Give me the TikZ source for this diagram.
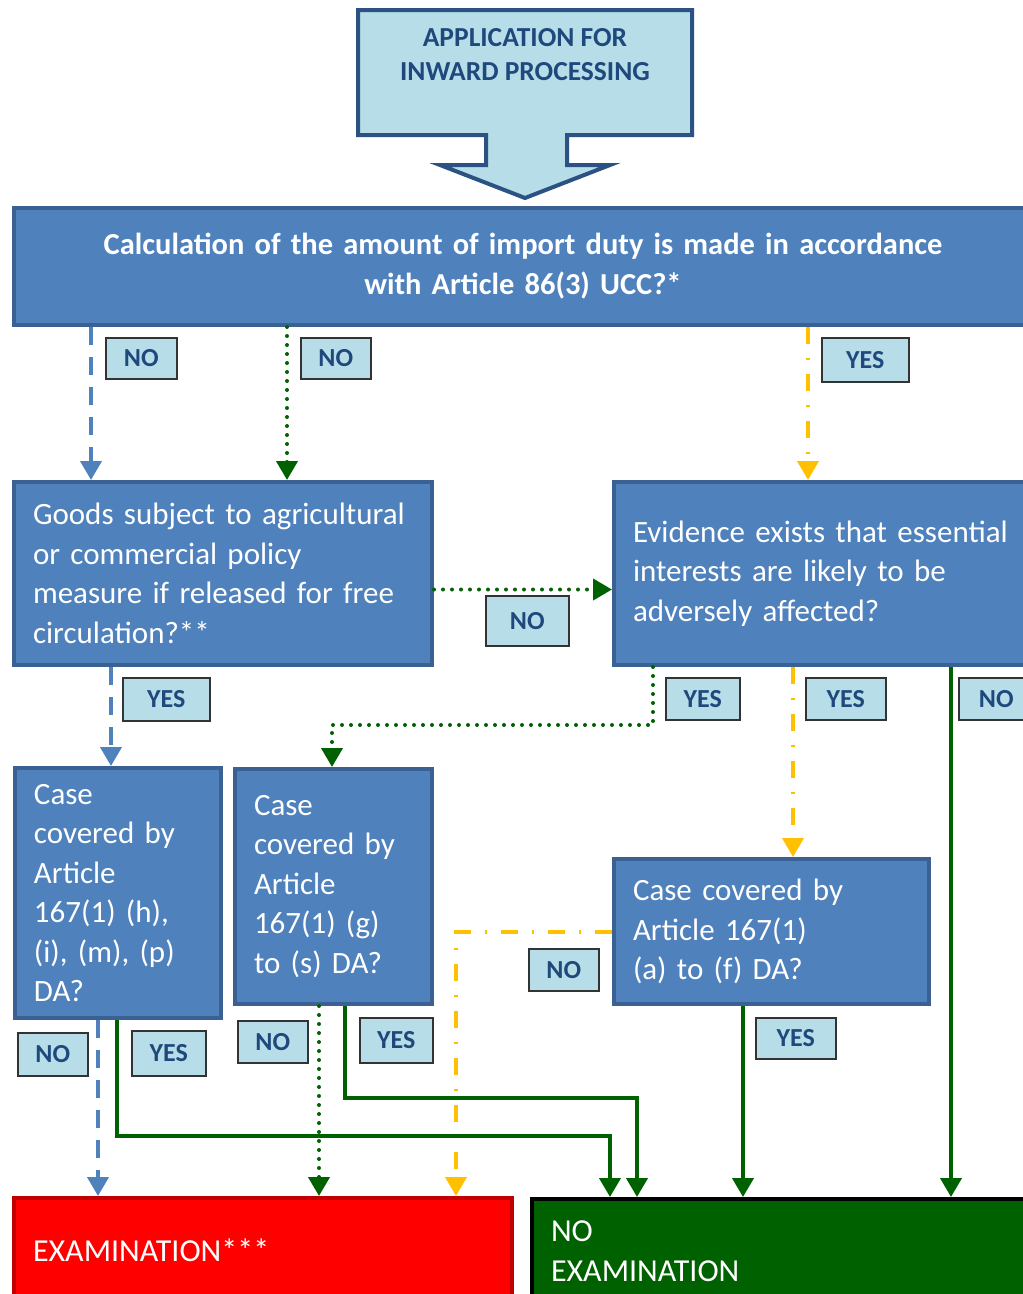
\documentclass[tikz,border=0pt]{standalone}
\usepackage{fontspec}
\setmainfont{Carlito}
\usetikzlibrary{arrows.meta}

\definecolor{boxblue}{HTML}{4F81BD}
\definecolor{boxedge}{HTML}{3A6191}
\definecolor{paleblue}{HTML}{B7DEE8}
\definecolor{navy}{HTML}{1F497D}
\definecolor{arrowedge}{HTML}{2B5283}
\definecolor{okgreen}{HTML}{006100}
\definecolor{amber}{HTML}{FFC000}
\definecolor{darkred}{HTML}{C00000}

\tikzset{
  qbox/.style={draw=boxedge, fill=boxblue, line width=4pt, text=white,
    anchor=north west, align=left, inner xsep=19pt, inner ysep=0pt,
    font=\fontsize{31}{39.5}\selectfont},
  answer/.style={draw=black!80, fill=paleblue, line width=1.5pt, text=navy,
    font=\bfseries\fontsize{26}{30}\selectfont, inner sep=0pt, anchor=north west},
  headtip/.style={-{Triangle[width=21pt,length=19pt]}},
  bluedash/.style={draw=boxblue, line width=4pt, dash pattern=on 18pt off 12pt, headtip},
  greendot/.style={draw=okgreen, line width=4pt, line cap=round,
    dash pattern=on 0pt off 9pt, headtip},
  amberdash/.style={draw=amber, line width=4pt, dash pattern=on 17pt off 14pt on 2pt off 14pt, headtip},
  greensolid/.style={draw=okgreen, line width=4pt, line join=miter, headtip},
}

\begin{document}
\begin{tikzpicture}[x=1pt,y=-1pt]
\path[use as bounding box] (0,0) rectangle (1023,1294);
\clip (0,0) rectangle (1023,1294);

% block arrow at the top
\draw[draw=arrowedge, fill=paleblue, line width=4pt, line join=miter]
  (358,10) -- (692,10) -- (692,135) -- (567,135) -- (567,165) -- (610,165)
  -- (525,198) -- (440,165) -- (486,165) -- (486,135) -- (358,135) -- cycle;
\node[text=navy, align=center, font=\bfseries\fontsize{27.5}{34}\selectfont]
  (app) at (525,55) {APPLICATION FOR\\INWARD PROCESSING};

% question boxes
\node[qbox, text width=980pt, minimum height=117pt, align=center,
  font=\bfseries\fontsize{30.5}{40}\selectfont] (calc) at (12,206)
  {Calculation of the amount of import duty is made in accordance\\with Article 86(3) UCC?*};

\node[qbox, text width=380pt, minimum height=183pt] (goods) at (12,480)
  {Goods subject to agricultural\\or commercial policy\\measure if released for free\\circulation?**};

\node[qbox, text width=392pt, minimum height=183pt] (evid) at (612,480)
  {Evidence exists that essential\\interests are likely to be\\adversely affected?};

\node[qbox, text width=168pt, minimum height=250pt] (caseA) at (13,766)
  {Case\\covered by\\Article\\167(1) (h),\\(i), (m), (p)\\DA?};

\node[qbox, text width=159pt, minimum height=235pt] (caseB) at (233,767)
  {Case\\covered by\\Article\\167(1) (g)\\to (s) DA?};

\node[qbox, text width=277pt, minimum height=145pt] (caseC) at (612,857)
  {Case covered by\\Article 167(1)\\(a) to (f) DA?};

% outcomes
\node[qbox, draw=darkred, fill=red, text width=460pt, minimum height=104pt,
  font=\fontsize{32}{40}\selectfont] (exam) at (12,1196) {EXAMINATION***};
\node[qbox, draw=black, fill=okgreen, text width=472pt, minimum height=104pt,
  font=\fontsize{32}{40}\selectfont] (noexam) at (530,1197) {NO\\EXAMINATION};

% connectors
\draw[bluedash] ([xshift=79pt]calc.south west) -- ([xshift=79pt]goods.north west);
\draw[greendot] ([xshift=275pt]calc.south west) -- ([xshift=275pt]goods.north west);
\draw[amberdash] ([xshift=796pt]calc.south west) -- ([xshift=196pt]evid.north west);
\draw[greendot] ([yshift=-16pt]goods.east) -- ([yshift=-16pt]evid.west);
\draw[bluedash] ([xshift=99pt]goods.south west) -- ([xshift=98pt]caseA.north west);
\draw[greendot] ([xshift=41pt]evid.south west) -- ++(0,58) -| ([xshift=99pt]caseB.north west);
\draw[amberdash] ([xshift=181pt]evid.south west) -- ([xshift=181pt]caseC.north west);
\draw[greensolid] ([xshift=339pt]evid.south west) -- ([xshift=421pt]noexam.north west);
\draw[amberdash] (caseC.west) -| ([xshift=444pt]exam.north west);
\draw[greensolid] ([xshift=131pt]caseC.south west) -- ([xshift=213pt]noexam.north west);
\draw[bluedash] ([xshift=85pt]caseA.south west) -- ([xshift=86pt]exam.north west);
\draw[greensolid] ([xshift=104pt]caseA.south west) -- ++(0,116) -| ([xshift=80pt]noexam.north west);
\draw[greendot] ([xshift=86pt]caseB.south west) -- ([xshift=307pt]exam.north west);
\draw[greensolid] ([xshift=112pt]caseB.south west) -- ++(0,92) -| ([xshift=107pt]noexam.north west);

% answer labels
\node[answer, minimum width=71pt, minimum height=41pt] (n1) at (105,337) {NO};
\node[answer, minimum width=70pt, minimum height=41pt] (n2) at (300,337) {NO};
\node[answer, minimum width=87pt, minimum height=44pt] (y1) at (821,337) {YES};
\node[answer, minimum width=83pt, minimum height=50pt] (n3) at (485,595) {NO};
\node[answer, minimum width=87pt, minimum height=43pt] (y2) at (122,677) {YES};
\node[answer, minimum width=74pt, minimum height=42pt] (y3) at (665,677) {YES};
\node[answer, minimum width=80pt, minimum height=42pt] (y4) at (805,677) {YES};
\node[answer, minimum width=75pt, minimum height=42pt] (n4) at (958,677) {NO};
\node[answer, minimum width=70pt, minimum height=42pt] (n5) at (528,948) {NO};
\node[answer, minimum width=70pt, minimum height=43pt] (n6) at (17,1032) {NO};
\node[answer, minimum width=74pt, minimum height=45pt] (y5) at (131,1030) {YES};
\node[answer, minimum width=70pt, minimum height=42pt] (n7) at (237,1020) {NO};
\node[answer, minimum width=73pt, minimum height=45pt] (y6) at (359,1017) {YES};
\node[answer, minimum width=80pt, minimum height=41pt] (y7) at (755,1017) {YES};
\end{tikzpicture}
\end{document}
